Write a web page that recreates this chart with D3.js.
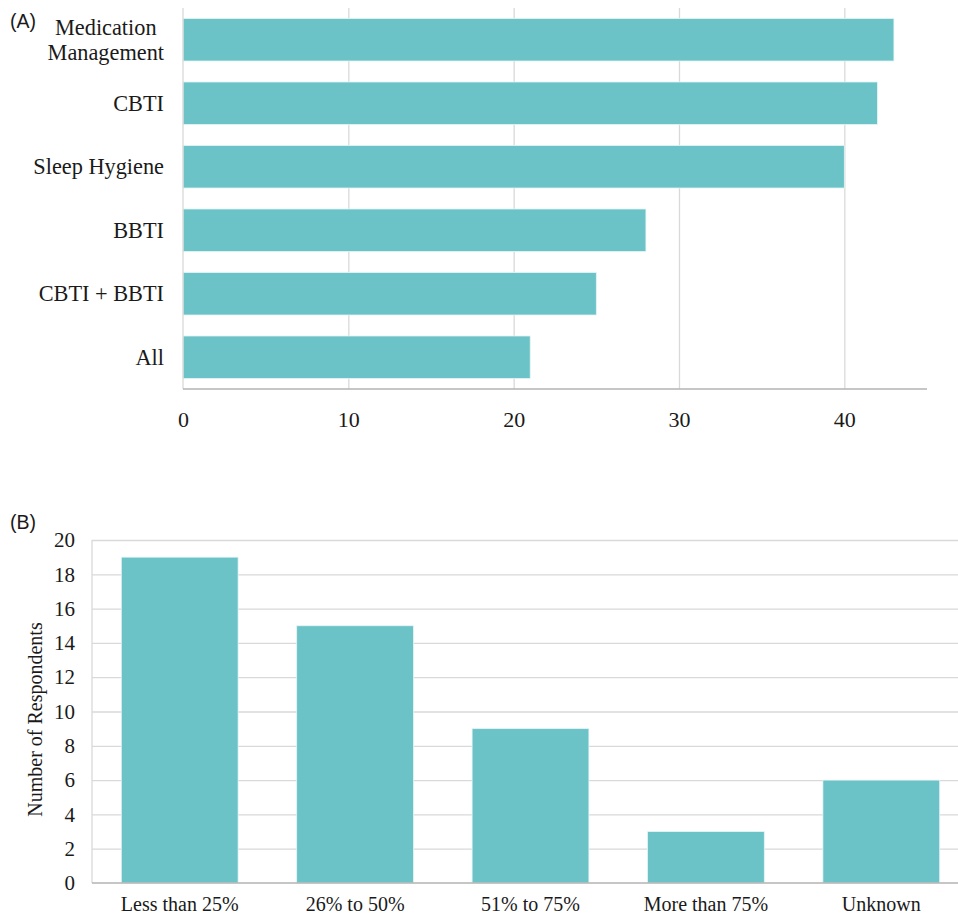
<!DOCTYPE html>
<html>
<head>
<meta charset="utf-8">
<script src="https://cdn.jsdelivr.net/npm/d3@7"></script>
<style>
  html, body { margin: 0; padding: 0; background: #fff; }
  svg { display: block; }
</style>
</head>
<body>
<div id="chart"></div>
<script>
// ---- Panel A data ----
const treatmentCategories = ["Medication Management", "CBTI", "Sleep Hygiene", "BBTI", "CBTI + BBTI", "All"];
const treatmentValues = [43, 42, 40, 28, 25, 21];
const treatmentTicks = [0, 10, 20, 30, 40];

// ---- Panel B data ----
const shareCategories = ["Less than 25%", "26% to 50%", "51% to 75%", "More than 75%", "Unknown"];
const shareValues = [19, 15, 9, 3, 6];
const shareTicks = [0, 2, 4, 6, 8, 10, 12, 14, 16, 18, 20];
const shareAxisTitle = "Number of Respondents";

const W = 958, H = 918;
const barColor = "#6bc2c7";
const gridColor = "#d9d9d9";
const axisColor = "#b3b3b3";
const SERIF = "'Liberation Serif', 'Times New Roman', serif";
const SANS = "'Liberation Sans', Arial, sans-serif";
const textColor = "#1a1a1a";

const svg = d3.select("#chart").append("svg").attr("width", W).attr("height", H);

function styleText(sel, size) {
  sel.attr("font-family", null).style("font-family", SERIF).style("font-size", size + "px").style("fill", textColor);
}

// ================= Panel A =================
const a = { left: 183, right: 927, top: 8, bottom: 389 };
const xA = d3.scaleLinear().domain([0, 45]).range([a.left, a.right]);
const yA = d3.scaleBand().domain(treatmentCategories).range([a.top, a.bottom]).paddingInner(0.33).paddingOuter(0.165);

const gA = svg.append("g");
gA.append("g").attr("transform", `translate(0,${a.bottom})`)
  .call(d3.axisBottom(xA).tickValues(treatmentTicks.filter(d => d > 0)).tickSize(-(a.bottom - a.top)).tickFormat(""))
  .call(g => g.select(".domain").remove())
  .call(g => g.selectAll("line").attr("stroke", gridColor).attr("stroke-width", 1.3));

gA.append("g").selectAll("rect").data(treatmentCategories).join("rect")
  .attr("x", xA(0))
  .attr("y", d => yA(d))
  .attr("width", (d, i) => xA(treatmentValues[i]) - xA(0))
  .attr("height", yA.bandwidth())
  .attr("fill", barColor)
  .attr("stroke", "#e6f5f6").attr("stroke-width", 0.8);

gA.append("line").attr("x1", a.left).attr("x2", a.left).attr("y1", a.top).attr("y2", a.bottom)
  .attr("stroke", gridColor).attr("stroke-width", 1.3);
gA.append("line").attr("x1", a.left).attr("x2", a.right).attr("y1", a.bottom).attr("y2", a.bottom)
  .attr("stroke", axisColor).attr("stroke-width", 1.3);

gA.append("g").attr("transform", `translate(0,${a.bottom})`)
  .call(d3.axisBottom(xA).tickValues(treatmentTicks).tickSize(0).tickPadding(22))
  .call(g => g.select(".domain").remove())
  .call(g => g.attr("font-family", null).attr("font-size", null))
  .call(g => styleText(g.selectAll("text"), 22));

const yLabelG = gA.append("g");
treatmentCategories.forEach((c) => {
  const cy = yA(c) + yA.bandwidth() / 2;
  const lines = c === "Medication Management" ? ["Medication", "Management"] : [c];
  const t = yLabelG.append("text").attr("text-anchor", "end");
  styleText(t, 22.3);
  lines.forEach((ln, j) => {
    t.append("tspan").attr("x", a.left - 19)
      .attr("y", cy + 7.5 + (j - (lines.length - 1) / 2) * 25).text(ln);
  });
  const tsp = t.selectAll("tspan").nodes();
  if (tsp.length > 1) {
    const w0 = tsp[0].getComputedTextLength(), w1 = tsp[1].getComputedTextLength();
    d3.select(tsp[0]).attr("x", a.left - 19 - (w1 - w0) / 2);
  }
});

svg.append("text").attr("x", 10).attr("y", 28).text("(A)")
  .style("font-family", SANS).style("font-size", "19.5px").style("fill", textColor);

// ================= Panel B =================
const b = { left: 92, right: 969, top: 540, bottom: 883 };
const yB = d3.scaleLinear().domain([0, 20]).range([b.bottom, b.top]);
const xB = d3.scaleBand().domain(shareCategories).range([b.left, b.right]).paddingInner(0.334).paddingOuter(0.167);

const gB = svg.append("g");
gB.append("g").attr("transform", `translate(${b.left},0)`)
  .call(d3.axisLeft(yB).tickValues(shareTicks.filter(d => d > 0)).tickSize(-(b.right - b.left)).tickFormat(""))
  .call(g => g.select(".domain").remove())
  .call(g => g.selectAll("line").attr("stroke", gridColor).attr("stroke-width", 1.3));

gB.append("line").attr("x1", b.left).attr("x2", b.left).attr("y1", b.top).attr("y2", b.bottom)
  .attr("stroke", gridColor).attr("stroke-width", 1.3);

gB.append("g").selectAll("rect").data(shareCategories).join("rect")
  .attr("x", d => xB(d))
  .attr("y", (d, i) => yB(shareValues[i]))
  .attr("width", xB.bandwidth())
  .attr("height", (d, i) => yB(0) - yB(shareValues[i]))
  .attr("fill", barColor)
  .attr("stroke", "#e6f5f6").attr("stroke-width", 0.8);

gB.append("line").attr("x1", b.left).attr("x2", b.right).attr("y1", b.bottom).attr("y2", b.bottom)
  .attr("stroke", axisColor).attr("stroke-width", 1.3);

gB.append("g").attr("transform", `translate(${b.left},0)`)
  .call(d3.axisLeft(yB).tickValues(shareTicks).tickSize(0).tickPadding(17))
  .call(g => g.select(".domain").remove())
  .call(g => g.attr("font-family", null).attr("font-size", null))
  .call(g => styleText(g.selectAll("text"), 21));

gB.append("g").attr("transform", `translate(0,${b.bottom})`)
  .call(d3.axisBottom(xB).tickSize(0).tickPadding(14))
  .call(g => g.select(".domain").remove())
  .call(g => g.attr("font-family", null).attr("font-size", null))
  .call(g => styleText(g.selectAll("text"), 20));

const yt = svg.append("text").attr("text-anchor", "middle")
  .attr("transform", `translate(42,${(b.top + b.bottom) / 2 + 8}) rotate(-90)`)
  .text(shareAxisTitle);
styleText(yt, 20);

svg.append("text").attr("x", 10).attr("y", 529).text("(B)")
  .style("font-family", SANS).style("font-size", "19.5px").style("fill", textColor);
</script>
</body>
</html>
